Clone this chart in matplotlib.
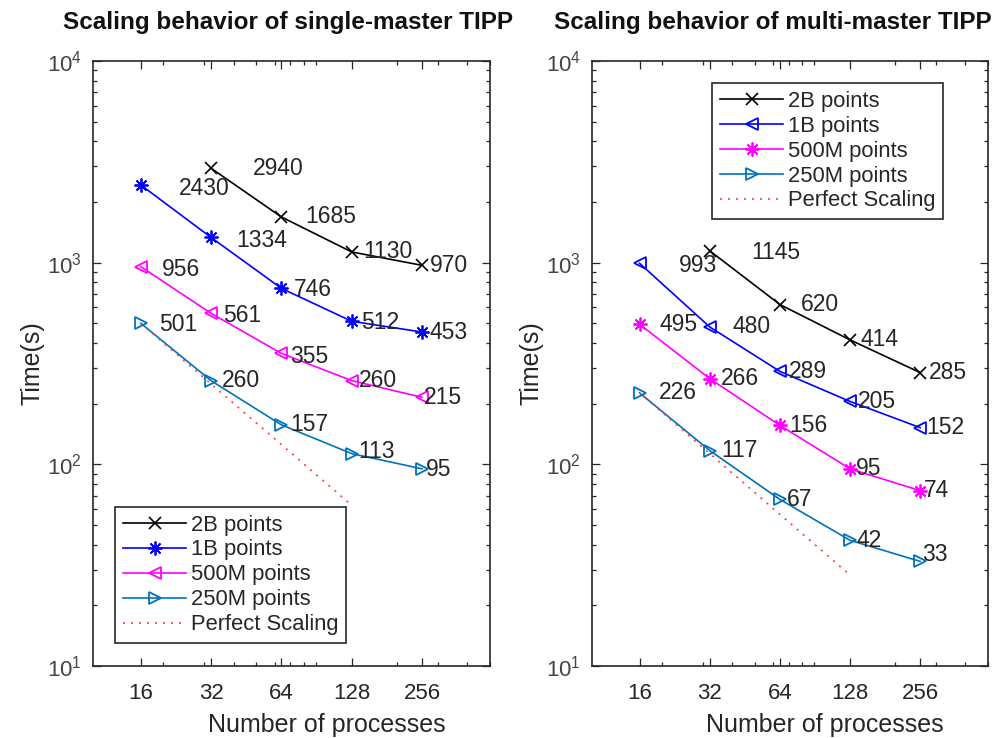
import matplotlib
matplotlib.use("Agg")
import matplotlib.pyplot as plt
import numpy as np

plt.rcParams['font.family'] = ['Liberation Sans', 'DejaVu Sans']

procs = [16, 32, 64, 128, 256]
procs_2b = [32, 64, 128, 256]
procs_perfect = [16, 32, 64, 128]

# single-master TIPP
single_2b = [2940, 1685, 1130, 970]
single_1b = [2430, 1334, 746, 512, 453]
single_500m = [956, 561, 355, 260, 215]
single_250m = [501, 260, 157, 113, 95]

# multi-master TIPP
multi_2b = [1145, 620, 414, 285]
multi_1b = [993, 480, 289, 205, 152]
multi_500m = [495, 266, 156, 95, 74]
multi_250m = [226, 117, 67, 42, 33]

legend_labels = ['2B points', '1B points', '500M points', '250M points', 'Perfect Scaling']
titles = ['Scaling behavior of single-master TIPP', 'Scaling behavior of multi-master TIPP']

DARK = '#262626'
C250 = '#0072BD'
ASTER = (8, 2, 0)

# label offsets (pixels, dx right / dy down in image)
single_off = {
    '2b': [(42, 0), (24, 0), (12, 0), (8, 0)],
    '1b': [(38, 4), (25, 3), (12, 1), (9, 1), (7, 0)],
    '500m': [(21, 3), (12, 2), (9, 3), (7, 0), (2, 0)],
    '250m': [(18, 1), (11, 0), (9, 0), (7, -2), (4, 1)],
}
multi_off = {
    '2b': [(42, 2), (21, 0), (10, 0), (9, 0)],
    '1b': [(39, 2), (23, 0), (9, 0), (8, 0), (6, 0)],
    '500m': [(20, 0), (11, 0), (9, 0), (6, 0), (4, 0)],
    '250m': [(19, 0), (12, 0), (7, 0), (6, 0), (2, -7)],
}

fig = plt.figure(figsize=(10.05, 7.38), dpi=100)
axL = fig.add_axes([93/1005, 72/738, 397/1005, 605/738])
axR = fig.add_axes([592/1005, 72/738, 396/1005, 605/738])

LW = 1.2
MS = 9


def label_pts(ax, xs, ys, offs):
    for x, y, (dx, dy) in zip(xs, ys, offs):
        ax.annotate(str(y), (x, y), xytext=(dx, -dy), textcoords='offset pixels',
                    ha='left', va='center', fontsize=16.5, color=DARK)


def panel(ax, d2b, d1b, d500, d250, m1b, m500, offs, title, title_x, legend_kw):
    h = []
    h += ax.plot(procs_2b, d2b, color='k', marker='x', ms=MS, lw=LW, mew=1.2)
    h += ax.plot(procs, d1b, color='#0000ff', marker=m1b, ms=MS + (1 if m1b == ASTER else 0), lw=LW,
                 mfc='none', mew=1.3)
    h += ax.plot(procs, d500, color='#ff00ff', marker=m500, ms=MS + (1 if m500 == ASTER else 0), lw=LW,
                 mfc='none', mew=1.3)
    h += ax.plot(procs, d250, color=C250, marker='>', ms=MS, lw=LW, mfc='none', mew=1.3)
    perfect = [d250[0] * procs[0] / p for p in procs_perfect]
    h += ax.plot(procs_perfect, perfect, color='#ff3b3b', ls=(0, (1.2, 3.6)), lw=1.2)
    label_pts(ax, procs_2b, d2b, offs['2b'])
    label_pts(ax, procs, d1b, offs['1b'])
    label_pts(ax, procs, d500, offs['500m'])
    label_pts(ax, procs, d250, offs['250m'])

    ax.set_xscale('log')
    ax.set_yscale('log')
    ax.set_xlim(10, 500)
    ax.set_ylim(10, 1e4)
    ax.set_xticks(procs)
    ax.set_xticklabels([str(p) for p in procs])
    ax.set_yticks([10, 100, 1000, 10000])
    ax.tick_params(which='both', direction='in', top=True, right=True, colors=DARK,
                   labelsize=16, width=0.9)
    ax.tick_params(which='major', length=6, pad=12)
    ax.tick_params(which='minor', length=3)
    ax.tick_params(axis='y', which='major', pad=8, labelcolor='#444444')
    for s in ax.spines.values():
        s.set_color(DARK)
        s.set_linewidth(1.2)
    ax.set_xlabel('Number of processes', fontsize=18, color=DARK, labelpad=6)
    ax.xaxis.set_label_coords(0.5 + 35/397, -0.078)
    ax.set_ylabel('Time(s)', fontsize=18, color=DARK, labelpad=2)
    ax.set_title(title, fontsize=17.5, fontweight='bold', color='#111111', pad=23, x=title_x)
    leg = ax.legend(h, legend_labels, fontsize=15.8, handlelength=2.9, handletextpad=0.2,
                    labelspacing=0.18, borderpad=0.35, fancybox=False, framealpha=1,
                    edgecolor=DARK, borderaxespad=0, **legend_kw)
    leg.get_frame().set_linewidth(1.2)
    for t in leg.get_texts():
        t.set_color(DARK)


panel(axL, single_2b, single_1b, single_500m, single_250m, ASTER, '<', single_off, titles[0],
      (287.5 - 93) / 397, dict(loc='lower left', bbox_to_anchor=(22/397, 23/605)))
panel(axR, multi_2b, multi_1b, multi_500m, multi_250m, '<', ASTER, multi_off, titles[1],
      (773 - 592) / 396, dict(loc='upper left', bbox_to_anchor=(120/396, 1 - 22/605)))

fig.savefig('out.png', dpi=100, facecolor='white')
